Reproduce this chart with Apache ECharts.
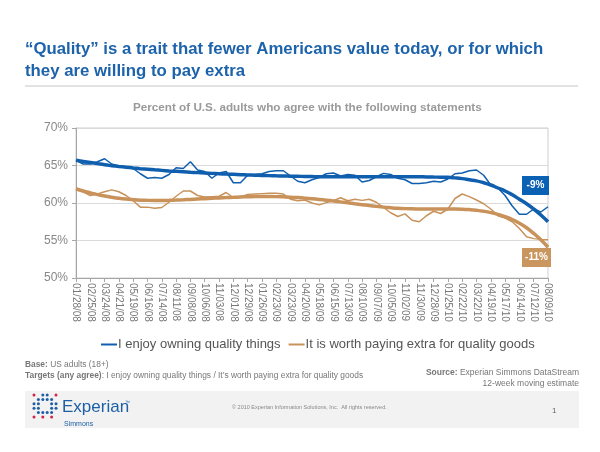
<!DOCTYPE html>
<html><head><meta charset="utf-8">
<script src="https://cdn.jsdelivr.net/npm/echarts@6/dist/echarts.min.js"></script>
<style>html,body{margin:0;padding:0;background:#fff}#c{width:600px;height:452px}</style>
</head><body><div id="c"></div>
<script>
// Biweekly category dates (labels shown every 4 weeks)
const categories = [
 '01/28/08','02/11/08','02/25/08','03/10/08','03/24/08','04/07/08','04/21/08','05/05/08','05/19/08','06/02/08',
 '06/16/08','06/30/08','07/14/08','07/28/08','08/11/08','08/25/08','09/08/08','09/22/08','10/06/08','10/20/08',
 '11/03/08','11/17/08','12/01/08','12/15/08','12/29/08',
 '01/12/09','01/26/09','02/09/09','02/23/09','03/09/09','03/23/09','04/06/09','04/20/09','05/04/09','05/18/09',
 '06/01/09','06/15/09','06/29/09','07/13/09','07/27/09','08/10/09','08/24/09','09/07/09','09/21/09','10/05/09',
 '10/19/09','11/02/09','11/16/09','11/30/09','12/14/09','12/28/09',
 '01/11/10','01/25/10','02/08/10','02/22/10','03/08/10','03/22/10','04/05/10','04/19/10','05/03/10','05/17/10',
 '05/31/10','06/14/10','06/28/10','07/12/10','07/26/10','08/09/10'
];
const seriesNames = ['I enjoy owning quality things', 'It is worth paying extra for quality goods'];
const enjoyRaw = [
 65.7,65.2,65.2,65.5,65.9,65.2,64.9,64.75,64.6,63.9,
 63.3,63.4,63.3,63.8,64.7,64.6,65.5,64.4,64.2,63.3,
 64.0,64.2,62.7,62.7,63.7,63.8,63.9,64.2,64.3,64.3,
 63.6,62.9,62.7,63.1,63.4,63.9,64.0,63.6,63.8,63.7,
 62.8,63.0,63.5,63.95,63.8,63.3,63.1,62.6,62.6,62.7,
 62.9,62.8,63.2,63.9,64.0,64.3,64.4,63.7,62.4,62.0,
 61.0,59.6,58.5,58.5,59.2,58.8,59.5
];
const enjoyTrend = [
 65.7,65.55,65.4,65.25,65.1,64.98,64.87,64.77,64.67,64.58,
 64.5,64.42,64.35,64.28,64.22,64.16,64.1,64.05,64.0,63.95,
 63.9,63.86,63.82,63.78,63.74,63.71,63.68,63.65,63.62,63.6,
 63.58,63.56,63.54,63.52,63.5,63.5,63.5,63.5,63.5,63.5,
 63.5,63.5,63.5,63.5,63.5,63.5,63.5,63.5,63.49,63.48,
 63.46,63.44,63.42,63.35,63.25,63.1,62.95,62.7,62.4,62.0,
 61.6,61.1,60.5,59.9,59.2,58.4,57.5
];
const payRaw = [
 61.9,61.5,61.0,61.2,61.5,61.75,61.5,61.0,60.3,59.45,
 59.45,59.3,59.4,60.1,60.9,61.6,61.6,61.0,60.8,60.85,
 60.9,61.4,60.7,60.8,61.15,61.2,61.25,61.3,61.3,61.2,
 60.5,60.3,60.4,60.0,59.75,60.05,60.3,60.7,60.3,60.5,
 60.35,60.5,60.1,59.4,58.7,58.2,58.55,57.7,57.5,58.3,
 58.9,58.6,59.2,60.6,61.2,60.85,60.4,59.9,59.2,58.3,
 58.0,57.5,56.6,55.5,55.25,55.15,55.1
];
const payTrend = [
 61.9,61.6,61.35,61.12,60.93,60.77,60.63,60.52,60.44,60.38,
 60.35,60.34,60.34,60.36,60.39,60.43,60.48,60.53,60.58,60.63,
 60.68,60.72,60.76,60.8,60.83,60.85,60.86,60.86,60.85,60.82,
 60.78,60.72,60.65,60.57,60.48,60.38,60.27,60.15,60.03,59.9,
 59.78,59.66,59.55,59.45,59.37,59.3,59.25,59.22,59.2,59.19,
 59.19,59.2,59.2,59.2,59.18,59.12,59.03,58.9,58.72,58.48,
 58.18,57.8,57.3,56.7,55.95,55.1,54.1
];
const changeLabels = ['-9%', '-11%'];

const BLUE = '#0f5fae', BROWN = '#c8925a', FONT = 'Liberation Sans, Arial, sans-serif';
const chart = echarts.init(document.getElementById('c'), null, {renderer: 'canvas'});

// Logo dots pattern (decoration)
const dotRows = [
 'r.bb.r',
 '.bbbb.',
 'bb..bb',
 'bb..bb',
 '.bbbb.',
 'r.r.r.'
];
const dots = [];
dotRows.forEach((row, r) => {
  for (let c = 0; c < row.length; c++) {
    const ch = row[c];
    if (ch === '.') continue;
    dots.push({type:'circle', shape:{cx:34 + c*4.4, cy:395 + r*4.4, r:1.5},
      style:{fill: ch === 'r' ? '#d2234b' : '#1d5fa5'}, silent:true});
  }
});

chart.setOption({
  animation: false,
  textStyle: {fontFamily: FONT},
  title: [
    {text: '“Quality” is a trait that fewer Americans value today, or for which\nthey are willing to pay extra',
     left: 20, top: 33, textStyle: {fontSize: 16.8, fontWeight: 'bold', color: '#1d63ab', lineHeight: 22, fontFamily: FONT}},
    {text: 'Percent of U.S. adults who agree with the following statements', left: 128, top: 97,
     textStyle: {fontSize: 11.7, fontWeight: 'bold', color: '#9a9a9a', fontFamily: FONT}}
  ],
  legend: {
    data: seriesNames, left: 96, top: 333, icon: 'rect', itemWidth: 16, itemHeight: 2, itemGap: 8,
    textStyle: {fontSize: 13, color: '#555', fontFamily: FONT, padding: [0,0,0,-4]}
  },
  grid: {left: 76, right: 52, top: 128, bottom: 174, show: true, borderColor: '#cfcfcf', borderWidth: 1},
  xAxis: {
    type: 'category', data: categories, boundaryGap: false,
    axisLine: {lineStyle: {color: '#a6a6a6'}},
    axisTick: {show: true, interval: 1, length: 4, lineStyle: {color: '#a6a6a6'}},
    axisLabel: {interval: 1, rotate: -90, fontSize: 10, color: '#777', margin: 5, fontFamily: FONT},
    splitLine: {show: false}
  },
  yAxis: {
    type: 'value', min: 50, max: 70, interval: 5,
    axisLine: {show: true, lineStyle: {color: '#a6a6a6'}},
    axisTick: {show: true, length: 4, lineStyle: {color: '#a6a6a6'}},
    axisLabel: {formatter: '{value}%', fontSize: 12, color: '#888', margin: 8, fontFamily: FONT},
    splitLine: {lineStyle: {color: '#dadada'}}
  },
  series: [
    {name: seriesNames[0], type: 'line', data: enjoyRaw, symbol: 'none', color: BLUE, lineStyle: {width: 1.5}, z: 3},
    {name: seriesNames[1], type: 'line', data: payRaw, symbol: 'none', color: BROWN, lineStyle: {width: 1.5}, z: 3},
    {name: 'enjoyTrend', type: 'line', data: enjoyTrend, symbol: 'none', smooth: true, color: BLUE, lineStyle: {width: 3.5}, z: 4},
    {name: 'payTrend', type: 'line', data: payTrend, symbol: 'none', smooth: true, color: BROWN, lineStyle: {width: 3.5}, z: 4}
  ],
  graphic: [
    {type: 'rect', shape: {x: 25, y: 85, width: 553, height: 2}, style: {fill: '#e2e2e2'}, silent: true},
    {type: 'rect', shape: {x: 522, y: 176, width: 27, height: 19}, style: {fill: '#0b62b4'}, z: 10},
    {type: 'text', x: 535.5, y: 185.5, style: {text: changeLabels[0], fill: '#fff', font: 'bold 10px ' + FONT, align: 'center', verticalAlign: 'middle'}, z: 11},
    {type: 'rect', shape: {x: 522, y: 248, width: 29, height: 19}, style: {fill: '#c8965e'}, z: 10},
    {type: 'text', x: 536.5, y: 257.5, style: {text: changeLabels[1], fill: '#fff', font: 'bold 10px ' + FONT, align: 'center', verticalAlign: 'middle'}, z: 11},
    {type: 'text', x: 25, y: 361, style: {text: '{b|Base:} US adults (18+)', font: '8.4px ' + FONT, fill: '#777',
      rich: {b: {fontWeight: 'bold', fontSize: 8.4, fill: '#777'}}}},
    {type: 'text', x: 25, y: 372, style: {text: '{b|Targets (any agree)}: I enjoy owning quality things / It’s worth paying extra for quality goods', font: '8.4px ' + FONT, fill: '#777',
      rich: {b: {fontWeight: 'bold', fontSize: 8.4, fill: '#777'}}}},
    {type: 'text', x: 579, y: 368, style: {text: '{b|Source:} Experian Simmons DataStream', font: '8.5px ' + FONT, fill: '#777', align: 'right',
      rich: {b: {fontWeight: 'bold', fontSize: 8.5, fill: '#777'}}}},
    {type: 'text', x: 579, y: 379, style: {text: '12-week moving estimate', font: '8.5px ' + FONT, fill: '#777', align: 'right'}},
    {type: 'rect', shape: {x: 25, y: 391, width: 554, height: 37}, style: {fill: '#f2f2f2'}, silent: true, z: -1},
    ...dots,
    {type: 'text', x: 62, y: 399, style: {text: 'Experian', font: '17px ' + FONT, fill: '#1d5fa5'}},
    {type: 'text', x: 125, y: 400, style: {text: '™', font: '5px ' + FONT, fill: '#1d5fa5'}},
    {type: 'text', x: 64, y: 421, style: {text: 'Simmons', font: '7px ' + FONT, fill: '#1d5fa5'}},
    {type: 'text', x: 232, y: 404, style: {text: '© 2010 Experian Information Solutions, Inc.  All rights reserved.', font: '5.5px ' + FONT, fill: '#888'}},
    {type: 'text', x: 552, y: 407, style: {text: '1', font: '8px ' + FONT, fill: '#666'}}
  ]
});
</script></body></html>
